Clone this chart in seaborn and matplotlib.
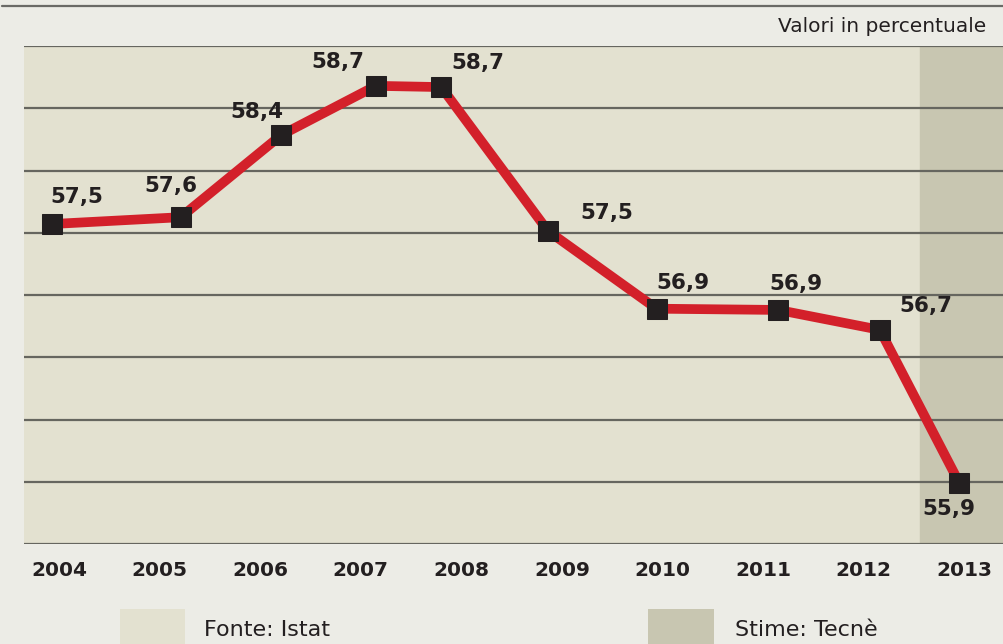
import pandas as pd
import matplotlib.pyplot as plt
from matplotlib.patches import Rectangle
import seaborn as sns

# years on the axis and where each marker sits
years = [2004, 2005, 2006, 2007, 2008, 2009, 2010, 2011, 2012, 2013]
x_marker = [2003.93, 2005.21, 2006.21, 2007.15, 2007.80, 2008.86, 2009.94, 2011.15, 2012.16, 2012.95]
# marker height in gridline steps (grid runs 0..8, no numbers shown)
level = [5.14, 5.25, 6.57, 7.36, 7.34, 5.03, 3.78, 3.76, 3.44, 0.98]
labels = ['57,5', '57,6', '58,4', '58,7', '58,7', '57,5', '56,9', '56,9', '56,7', '55,9']
# label offsets from the marker, in pixels (dx, dy down)
offsets = [(25, -27), (-10, -31), (-24, -23), (-38, -24), (37, -24),
           (59, -18), (26, -26), (18, -26), (46, -24), (-10, 26)]

df = pd.DataFrame({'x': x_marker, 'y': level})

bg = '#ecece6'
beige = '#e3e1d0'
shade = '#c8c6b1'
red = '#d3202a'
ink = '#231f20'

sns.set_theme(style='white')
plt.rcParams['font.family'] = ['DejaVu Sans']

fig = plt.figure(figsize=(10.04, 6.44), dpi=100, facecolor=bg)
ax = fig.add_axes([24 / 1004, 1 - 544 / 644, 980 / 1004, 498 / 644])
ax.set_facecolor(beige)

ax.set_xlim(2003.652, 2013.394)
ax.set_ylim(0, 8)
ax.axvspan(2012.559, 2013.394, color=shade, zorder=0)

for g in range(0, 9):
    ax.axhline(g, color='#66665f', linewidth=1.6, zorder=1)

sns.lineplot(data=df, x='x', y='y', ax=ax, color=red, linewidth=7,
             marker='s', markersize=14, markerfacecolor=ink,
             markeredgecolor=ink, zorder=3)

for xi, yi, lab, (dx, dy) in zip(x_marker, level, labels, offsets):
    ax.annotate(lab, (xi, yi), xytext=(dx * 0.72, -dy * 0.72),
                textcoords='offset points', ha='center', va='center',
                fontsize=15.5, fontweight='bold', color=ink, zorder=4)

ax.set_xticks(years)
ax.set_xticklabels([str(y) for y in years], fontsize=14.5, fontweight='bold', color=ink)
ax.tick_params(axis='x', length=0, pad=12)
ax.set_yticks([])
ax.set_xlabel('')
ax.set_ylabel('')
for s in ax.spines.values():
    s.set_visible(False)

# top rule and unit note
fig.add_artist(plt.Line2D([2 / 1004, 1], [1 - 5.5 / 644] * 2, color='#6a6a66', linewidth=1.6))
fig.text(986 / 1004, 1 - 26 / 644, 'Valori in percentuale', ha='right', va='center',
         fontsize=14.5, color=ink)

# legend boxes
fig.add_artist(Rectangle((120 / 1004, 0), 65 / 1004, 35 / 644, transform=fig.transFigure,
                         color=beige, linewidth=0))
fig.text(204 / 1004, 1 - 630 / 644, 'Fonte: Istat', ha='left', va='center',
         fontsize=16, color=ink)
fig.add_artist(Rectangle((648 / 1004, 0), 66 / 1004, 35 / 644, transform=fig.transFigure,
                         color=shade, linewidth=0))
fig.text(735 / 1004, 1 - 630 / 644, 'Stime: Tecnè', ha='left', va='center',
         fontsize=16, color=ink)

fig.savefig('out.png', dpi=100, facecolor=bg)
